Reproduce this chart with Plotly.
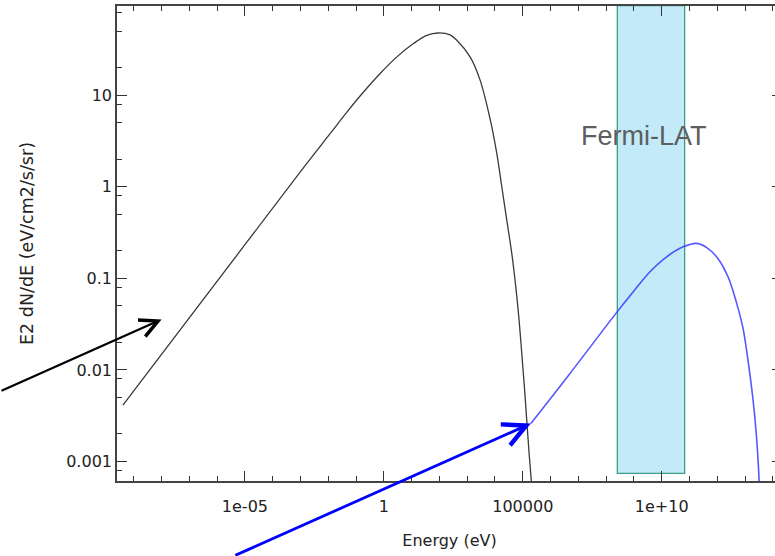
import math
import plotly.graph_objects as go

# Synchrotron component (black)
sync_energy = [4.07e-10, 1e-5, 1e-3, 1.175e-2, 4.68e-2, 0.158, 0.736, 2.94, 11.6, 35.2,
               92, 243, 423, 1271, 2911, 6668, 11600, 17600, 26500, 40200,
               56000, 73600, 92000, 114000, 139000, 169000, 211000]
sync_flux = [0.00413, 0.233, 1.466, 3.82, 6.53, 10.23, 17.26, 26.2, 36.6, 45.1,
             47.8, 45.6, 39.8, 26.2, 14.6, 5.5, 2.31, 1.0, 0.434, 0.1875,
             0.0811, 0.0352, 0.0152, 0.00658, 0.00284, 0.00123, 0.000531]

# Inverse-Compton component (blue)
ic_energy = [1.95e5, 5.02e6, 2.53e8, 9.5e8, 3.79e9, 1.51e10, 5.98e10, 1.82e11, 4.2e11,
             1.1e12, 2.5e12, 5.0e12, 8.5e12, 1.32e13, 1.88e13, 2.47e13, 2.99e13, 3.3e13]
ic_flux = [0.0026, 0.00916, 0.0433, 0.0714, 0.118, 0.172, 0.221, 0.241, 0.2165,
           0.162, 0.102, 0.0533, 0.0283, 0.0118, 0.00513, 0.00221, 0.000955, 0.0005]

# Fermi-LAT energy band
lat_energy = [2.53e8, 6.7e10]
lat_flux = [7.4e-4, 95]
lat_label_pos = (2.3e9, 3.57)

# Points the two arrows aim at
arrow_energy = [1.0e-8, ic_energy[0]]
arrow_flux = [0.0356, ic_flux[0]]

x_tick_vals = [1e-5, 1, 1e5, 1e10]
x_tick_text = ["1e-05", "1", "100000", "1e+10"]
y_tick_vals = [0.001, 0.01, 0.1, 1, 10]
y_tick_text = ["0.001", "0.01", "0.1", "1", "10"]

x_minor = [10.0 ** k for k in range(-9, 15)]
y_minor = [m * 10.0 ** k for k in range(-4, 3) for m in (2, 5, 8)]

fig = go.Figure()
fig.add_trace(go.Scatter(x=sync_energy, y=sync_flux, mode="lines",
                         line=dict(color="#3a3a3a", width=1.3, shape="spline", smoothing=1.0),
                         showlegend=False, hoverinfo="skip"))
fig.add_trace(go.Scatter(x=ic_energy, y=ic_flux, mode="lines",
                         line=dict(color="rgba(45,45,255,0.8)", width=1.6, shape="spline", smoothing=1.0),
                         showlegend=False, hoverinfo="skip"))

fig.add_shape(type="rect", xref="x", yref="y",
              x0=lat_energy[0], x1=lat_energy[1], y0=lat_flux[0], y1=lat_flux[1],
              fillcolor="#c2eaf8", line=dict(color="#3a9e86", width=1.3), layer="below")

fig.add_annotation(x=math.log10(lat_label_pos[0]), y=math.log10(lat_label_pos[1]),
                   xref="x", yref="y", text="Fermi-LAT", showarrow=False,
                   font=dict(family="Liberation Sans, Arial", size=27, color="#5e5e5e"))

arrow_colors = ["#000000", "#0000ff"]
arrow_widths = [2.2, 2.8]
arrow_offsets = [(-165, 72), (-297, 137)]
for e, f, c, w, (ax, ay) in zip(arrow_energy, arrow_flux, arrow_colors, arrow_widths, arrow_offsets):
    fig.add_annotation(x=math.log10(e), y=math.log10(f), xref="x", yref="y",
                       ax=ax, ay=ay, axref="pixel", ayref="pixel",
                       showarrow=True, arrowhead=5, arrowsize=1.6, arrowwidth=w,
                       arrowcolor=c, standoff=0, text="")

axis_common = dict(type="log", showline=True, linecolor="#444444", linewidth=1.6,
                   ticks="inside", ticklen=10, tickwidth=1.3, tickcolor="#333333",
                   mirror="allticks", showgrid=False, zeroline=False,
                   tickfont=dict(family="DejaVu Sans", size=16, color="#222222"))

fig.update_xaxes(**axis_common, range=[-9.604, 14.33], tickmode="array",
                 tickvals=x_tick_vals, ticktext=x_tick_text, ticklabelstandoff=10,
                 minor=dict(tickmode="array", tickvals=x_minor, ticks="inside",
                            ticklen=5, tickwidth=1.3, tickcolor="#333333"),
                 title=dict(text="Energy (eV)", standoff=20,
                            font=dict(family="DejaVu Sans", size=16, color="#222222")))
fig.update_yaxes(**axis_common, range=[-3.213, 1.974], tickmode="array",
                 tickvals=y_tick_vals, ticktext=y_tick_text,
                 minor=dict(tickmode="array", tickvals=y_minor, ticks="inside",
                            ticklen=5, tickwidth=1.3, tickcolor="#333333"),
                 title=dict(text="E2 dN/dE (eV/cm2/s/sr)", standoff=28,
                            font=dict(family="DejaVu Sans", size=17.5, color="#222222")))

fig.update_layout(width=790, height=556,
                  margin=dict(l=117.3, r=8, t=5.7, b=75, autoexpand=False),
                  plot_bgcolor="white", paper_bgcolor="white")

fig.write_html("out.html",
               post_script="document.documentElement.style.overflow='hidden';"
                           "document.body.style.overflow='hidden';")
